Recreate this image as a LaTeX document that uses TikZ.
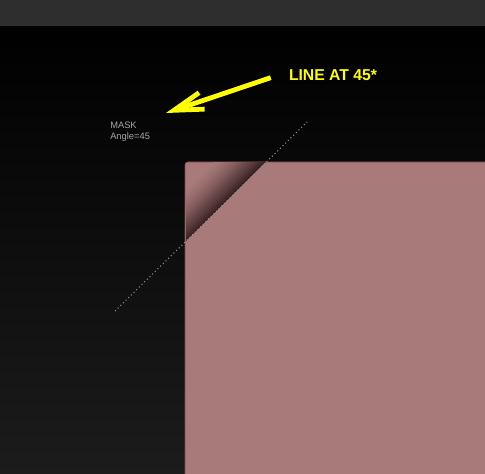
\documentclass[tikz,border=0pt]{standalone}
\usepackage{fontspec}
\setmainfont{Liberation Sans}
\usetikzlibrary{arrows.meta, positioning}
\definecolor{maskpink}{RGB}{168,122,122}
\definecolor{maskedge}{RGB}{125,72,72}
\definecolor{barcol}{RGB}{46,46,46}
\definecolor{bgbottom}{RGB}{28,28,28}
\definecolor{notecol}{RGB}{165,165,165}
\definecolor{shadowcol}{RGB}{58,36,36}
\definecolor{calloutcol}{RGB}{255,255,0}

\begin{document}
\begin{tikzpicture}[
            x=0.75pt, y=-0.75pt,
            note/.style={font=\fontsize{7}{8.25}\selectfont, text=notecol, align=left, inner sep=0pt, anchor=north west},
            callout/.style={font=\bfseries\fontsize{11.8}{14}\selectfont, text=calloutcol, inner sep=0pt},
            pointer/.style={-{Straight Barb[length=22pt, width=13pt]}, line width=3.6pt, calloutcol},
            guide/.style={dotted, line width=0.8pt, black!45}
        ]
            \useasboundingbox (0,0) rectangle (485,474);
            % window background
            \shade[top color=black, middle color=black, bottom color=bgbottom] (0,26) rectangle (485,474);
            \fill[barcol] (0,0) rectangle (485,26);

            % masked layer
            \draw[maskedge, fill=maskpink, rounded corners=2pt] (185,162) rectangle (492,480);

            \coordinate (guidestart) at (115,311);
            \coordinate (guideend) at (307,122);

            % soft edge above the mask line
            \begin{scope}
                \clip (186,163) rectangle (485,474);
                \clip (guidestart) -- (guideend) -- (107,-78) -- (-85,111) -- cycle;
                \begin{scope}[shift={(211,216.5)}, rotate=45]
                    \foreach \k [evaluate=\k as \pct using {100*(1-\k/18)^1.4}] in {0,...,17}
                        \fill[shadowcol!\pct!maskpink] (-300,-2*\k-2.3) rectangle (300,-2*\k);
                \end{scope}
            \end{scope}

            \draw[guide] (guidestart) -- (guideend);

            \node[note] (masknote) at (110,122) {MASK\\Angle=45};
            \node[callout] (linelabel) at (333,75) {LINE AT 45*};
            \coordinate (masktip) at (166,113);
            \coordinate[left=13.5pt of linelabel.west, yshift=-2pt] (arrowtail);

            \draw[pointer] (arrowtail) -- (masktip);
        \end{tikzpicture}
\end{document}
